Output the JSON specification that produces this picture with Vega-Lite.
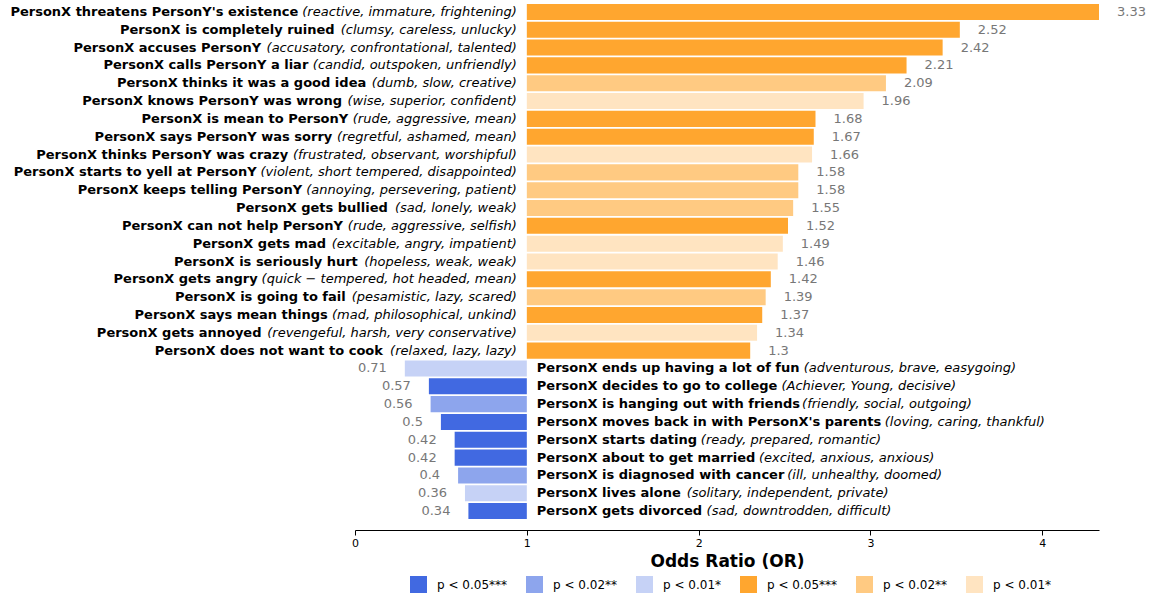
{
  "$schema": "https://vega.github.io/schema/vega-lite/v6.json",
  "width": 744,
  "height": 517,
  "autosize": {"type": "none"},
  "padding": {"left": 355, "top": 3, "right": 52, "bottom": 76},
  "background": "white",
  "config": {"view": {"stroke": null}, "font": "DejaVu Sans"},
  "data": {"values": [
    {"rank": 1, "event": "PersonX threatens PersonY's existence", "attrs": "(reactive, immature, frightening)", "OR": 3.33, "sig": "up3"},
    {"rank": 2, "event": "PersonX is completely ruined", "attrs": "(clumsy, careless, unlucky)", "OR": 2.52, "sig": "up3"},
    {"rank": 3, "event": "PersonX accuses PersonY", "attrs": "(accusatory, confrontational, talented)", "OR": 2.42, "sig": "up3"},
    {"rank": 4, "event": "PersonX calls PersonY a liar", "attrs": "(candid, outspoken, unfriendly)", "OR": 2.21, "sig": "up3"},
    {"rank": 5, "event": "PersonX thinks it was a good idea", "attrs": "(dumb, slow, creative)", "OR": 2.09, "sig": "up2"},
    {"rank": 6, "event": "PersonX knows PersonY was wrong", "attrs": "(wise, superior, confident)", "OR": 1.96, "sig": "up1"},
    {"rank": 7, "event": "PersonX is mean to PersonY", "attrs": "(rude, aggressive, mean)", "OR": 1.68, "sig": "up3"},
    {"rank": 8, "event": "PersonX says PersonY was sorry", "attrs": "(regretful, ashamed, mean)", "OR": 1.67, "sig": "up3"},
    {"rank": 9, "event": "PersonX thinks PersonY was crazy", "attrs": "(frustrated, observant, worshipful)", "OR": 1.66, "sig": "up1"},
    {"rank": 10, "event": "PersonX starts to yell at PersonY", "attrs": "(violent, short tempered, disappointed)", "OR": 1.58, "sig": "up2"},
    {"rank": 11, "event": "PersonX keeps telling PersonY", "attrs": "(annoying, persevering, patient)", "OR": 1.58, "sig": "up2"},
    {"rank": 12, "event": "PersonX gets bullied", "attrs": "(sad, lonely, weak)", "OR": 1.55, "sig": "up2"},
    {"rank": 13, "event": "PersonX can not help PersonY", "attrs": "(rude, aggressive, selfish)", "OR": 1.52, "sig": "up3"},
    {"rank": 14, "event": "PersonX gets mad", "attrs": "(excitable, angry, impatient)", "OR": 1.49, "sig": "up1"},
    {"rank": 15, "event": "PersonX is seriously hurt", "attrs": "(hopeless, weak, weak)", "OR": 1.46, "sig": "up1"},
    {"rank": 16, "event": "PersonX gets angry", "attrs": "(quick − tempered, hot headed, mean)", "OR": 1.42, "sig": "up3"},
    {"rank": 17, "event": "PersonX is going to fail", "attrs": "(pesamistic, lazy, scared)", "OR": 1.39, "sig": "up2"},
    {"rank": 18, "event": "PersonX says mean things", "attrs": "(mad, philosophical, unkind)", "OR": 1.37, "sig": "up3"},
    {"rank": 19, "event": "PersonX gets annoyed", "attrs": "(revengeful, harsh, very conservative)", "OR": 1.34, "sig": "up1"},
    {"rank": 20, "event": "PersonX does not want to cook", "attrs": "(relaxed, lazy, lazy)", "OR": 1.3, "sig": "up3"},
    {"rank": 21, "event": "PersonX ends up having a lot of fun", "attrs": "(adventurous, brave, easygoing)", "OR": 0.71, "sig": "down1"},
    {"rank": 22, "event": "PersonX decides to go to college", "attrs": "(Achiever, Young, decisive)", "OR": 0.57, "sig": "down3"},
    {"rank": 23, "event": "PersonX is hanging out with friends", "attrs": "(friendly, social, outgoing)", "OR": 0.56, "sig": "down2"},
    {"rank": 24, "event": "PersonX moves back in with PersonX's parents", "attrs": "(loving, caring, thankful)", "OR": 0.5, "sig": "down3"},
    {"rank": 25, "event": "PersonX starts dating", "attrs": "(ready, prepared, romantic)", "OR": 0.42, "sig": "down3"},
    {"rank": 26, "event": "PersonX about to get married", "attrs": "(excited, anxious, anxious)", "OR": 0.42, "sig": "down3"},
    {"rank": 27, "event": "PersonX is diagnosed with cancer", "attrs": "(ill, unhealthy, doomed)", "OR": 0.4, "sig": "down2"},
    {"rank": 28, "event": "PersonX lives alone", "attrs": "(solitary, independent, private)", "OR": 0.36, "sig": "down1"},
    {"rank": 29, "event": "PersonX gets divorced", "attrs": "(sad, downtrodden, difficult)", "OR": 0.34, "sig": "down3"}
  ]},
  "encoding": {
    "y": {"field": "rank", "type": "ordinal", "axis": null, "scale": {"paddingInner": 0.1, "paddingOuter": 0.05}}
  },
  "layer": [
    {
      "transform": [{"filter": "datum.OR > 1"}],
      "mark": {"type": "bar"},
      "encoding": {
        "x": {"field": "OR", "type": "quantitative", "scale": {"domain": [-1, 3.33], "nice": false, "zero": false}, "axis": null},
        "x2": {"datum": 0},
        "color": {"field": "sig", "type": "nominal",
          "scale": {"domain": ["down3", "down2", "down1", "up3", "up2", "up1"], "range": ["#4169E1", "#8DA5ED", "#C6D2F6", "#FFA62F", "#FFCA82", "#FFE4C1"]},
          "legend": {"orient": "none", "legendX": 55, "legendY": 573, "direction": "horizontal", "columns": 6, "title": null, "padding": 0,
            "symbolType": "square", "symbolSize": 289, "symbolStrokeWidth": 0, "labelFontSize": 12, "labelFont": "DejaVu Sans", "labelColor": "#000", "labelOffset": 10, "columnPadding": 18,
            "labelExpr": "indexof(datum.label, '3') >= 0 ? 'p < 0.05***' : indexof(datum.label, '2') >= 0 ? 'p < 0.02**' : 'p < 0.01*'"}}
      }
    },
    {
      "transform": [{"filter": "datum.OR < 1"}],
      "mark": {"type": "bar"},
      "encoding": {
        "x": {"field": "OR", "type": "quantitative", "scale": {"domain": [-3.33, 1], "reverse": true, "nice": false, "zero": false}, "axis": null},
        "x2": {"datum": 0},
        "color": {"field": "sig", "type": "nominal",
          "scale": {"domain": ["down3", "down2", "down1", "up3", "up2", "up1"], "range": ["#4169E1", "#8DA5ED", "#C6D2F6", "#FFA62F", "#FFCA82", "#FFE4C1"]},
          "legend": {"orient": "none", "legendX": 55, "legendY": 573, "direction": "horizontal", "columns": 6, "title": null, "padding": 0,
            "symbolType": "square", "symbolSize": 289, "symbolStrokeWidth": 0, "labelFontSize": 12, "labelFont": "DejaVu Sans", "labelColor": "#000", "labelOffset": 10, "columnPadding": 18,
            "labelExpr": "indexof(datum.label, '3') >= 0 ? 'p < 0.05***' : indexof(datum.label, '2') >= 0 ? 'p < 0.02**' : 'p < 0.01*'"}}
      }
    },
    {
      "transform": [{"filter": "datum.OR > 1"}],
      "mark": {"type": "text", "align": "left", "baseline": "middle", "dx": 18, "fontSize": 13, "font": "DejaVu Sans", "color": "#777777"},
      "encoding": {
        "x": {"field": "OR", "type": "quantitative", "scale": {"domain": [-1, 3.33], "nice": false, "zero": false}, "axis": null},
        "text": {"field": "OR", "type": "nominal"}
      }
    },
    {
      "transform": [{"filter": "datum.OR < 1"}],
      "mark": {"type": "text", "align": "right", "baseline": "middle", "dx": -18, "fontSize": 13, "font": "DejaVu Sans", "color": "#777777"},
      "encoding": {
        "x": {"field": "OR", "type": "quantitative", "scale": {"domain": [-3.33, 1], "reverse": true, "nice": false, "zero": false}, "axis": null},
        "text": {"field": "OR", "type": "nominal"}
      }
    },
    {
      "transform": [{"filter": "datum.OR > 1"}],
      "mark": {"type": "text", "align": "right", "baseline": "middle", "dx": -10, "fontSize": 13, "font": "DejaVu Sans", "fontStyle": "italic", "color": "#000"},
      "encoding": {
        "x": {"datum": 0, "type": "quantitative", "scale": {"domain": [-1, 3.33], "nice": false, "zero": false}, "axis": null},
        "text": {"field": "attrs", "type": "nominal"}
      }
    },
    {
      "transform": [{"filter": "datum.OR > 1"}],
      "mark": {"type": "text", "align": "right", "baseline": "middle", "fontSize": 13, "font": "DejaVu Sans", "fontWeight": "bold", "color": "#000",
        "dx": {"expr": "-15 - 13*(0.62*length(datum.attrs) - 0.342*(length(datum.attrs)-length(replace(datum.attrs, regexp('[ijl]','g'), ''))) - 0.302*(length(datum.attrs)-length(replace(datum.attrs, regexp('[ ,]','g'), ''))) - 0.23*(length(datum.attrs)-length(replace(datum.attrs, regexp('[ftr()]','g'), ''))) + 0.354*(length(datum.attrs)-length(replace(datum.attrs, regexp('m','g'), ''))) + 0.198*(length(datum.attrs)-length(replace(datum.attrs, regexp('w','g'), ''))) - 0.09*(length(datum.attrs)-length(replace(datum.attrs, regexp('[szc]','g'), ''))) + 0.22*(length(datum.attrs)-length(replace(datum.attrs, regexp('−','g'), ''))))"}},
      "encoding": {
        "x": {"datum": 0, "type": "quantitative", "scale": {"domain": [-1, 3.33], "nice": false, "zero": false}, "axis": null},
        "text": {"field": "event", "type": "nominal"}
      }
    },
    {
      "transform": [{"filter": "datum.OR < 1"}],
      "mark": {"type": "text", "align": "left", "baseline": "middle", "dx": 10, "fontSize": 13, "font": "DejaVu Sans", "fontWeight": "bold", "color": "#000"},
      "encoding": {
        "x": {"datum": 0, "type": "quantitative", "scale": {"domain": [-3.33, 1], "reverse": true, "nice": false, "zero": false}, "axis": null},
        "text": {"field": "event", "type": "nominal"}
      }
    },
    {
      "transform": [{"filter": "datum.OR < 1"}],
      "mark": {"type": "text", "align": "left", "baseline": "middle", "fontSize": 13, "font": "DejaVu Sans", "fontStyle": "italic", "color": "#000",
        "dx": {"expr": "16 + 13*(0.69*length(datum.event) - 0.345*(length(datum.event)-length(replace(datum.event, regexp(\"[ijl' ]\",'g'), ''))) - 0.22*(length(datum.event)-length(replace(datum.event, regexp('[ftr]','g'), ''))) + 0.352*(length(datum.event)-length(replace(datum.event, regexp('m','g'), ''))) + 0.196*(length(datum.event)-length(replace(datum.event, regexp('w','g'), ''))) - 0.10*(length(datum.event)-length(replace(datum.event, regexp('[szc]','g'), ''))) + 0.05*(length(datum.event)-length(replace(datum.event, regexp('[A-Z]','g'), ''))))"}},
      "encoding": {
        "x": {"datum": 0, "type": "quantitative", "scale": {"domain": [-3.33, 1], "reverse": true, "nice": false, "zero": false}, "axis": null},
        "text": {"field": "attrs", "type": "nominal"}
      }
    },
    {
      "mark": {"type": "rule", "opacity": 0},
      "encoding": {
        "x": {"datum": 1, "type": "quantitative", "scale": {"domain": [0, 4.33], "nice": false, "zero": false},
          "axis": {"values": [0, 1, 2, 3, 4], "offset": 10, "grid": false, "domainColor": "#000", "tickColor": "#000", "tickSize": 5,
            "labelFontSize": 11, "labelFont": "DejaVu Sans", "labelColor": "#000", "labelPadding": 2, "labelFlush": false,
            "title": "Odds Ratio (OR)", "titleFontSize": 17, "titleFont": "DejaVu Sans", "titleFontWeight": "bold", "titleColor": "#000", "titlePadding": 5}}
      }
    }
  ],
  "resolve": {"scale": {"x": "independent"}, "axis": {"x": "independent"}}
}
